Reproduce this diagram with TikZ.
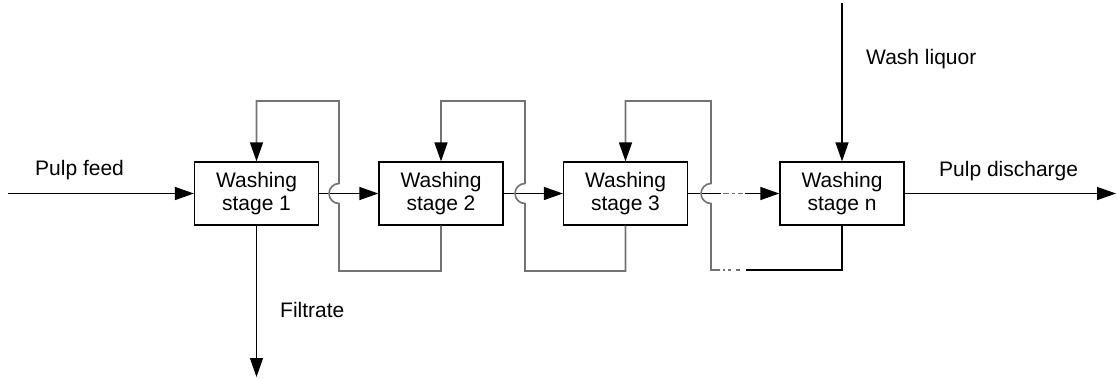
\documentclass[tikz,border=0pt]{standalone}
\usepackage{fontspec}
\setmainfont{Liberation Sans}
\usetikzlibrary{arrows.meta}
\begin{document}
\begin{tikzpicture}[x=1pt,y=-1pt,
  stagebox/.style={draw=black,line width=1.3pt,minimum width=124pt,minimum height=63pt,inner sep=0pt,align=center,font=\fontsize{21}{23}\selectfont},
  lbl/.style={anchor=west,inner sep=0pt,font=\fontsize{21}{23}\selectfont},
  flow/.style={draw=black,line width=1.3pt,-{Triangle[length=19pt,width=13pt]}},
  loop/.style={draw=black!55,line width=1.6pt,-{Triangle[length=19pt,width=13pt,color=black]}},
  gap/.style={draw=black!55,line width=1.6pt}
]
\useasboundingbox (0,0) rectangle (1118,378);
\node[stagebox] (s1) at (256.5,193.5) {Washing\\stage 1};
\node[stagebox] (s2) at (441,193.5) {Washing\\stage 2};
\node[stagebox] (s3) at (625.5,193.5) {Washing\\stage 3};
\node[stagebox] (sn) at (842,193.5) {Washing\\stage n};

\coordinate (feed) at (8,193.5);
\coordinate (disc) at (1116,193.5);
\coordinate (liq) at (842,3);
\coordinate (filt) at (256.5,377);

\node[lbl] (tfeed) at (35,170) {Pulp feed};
\node[lbl] (tdisc) at (939,171) {Pulp discharge};
\node[lbl] (tliq) at (866,59) {Wash liquor};
\node[lbl] (tfilt) at (280,310) {Filtrate};

% main flow
\draw[flow] (feed) -- (s1.west);
\draw[flow] (s1.east) -- (s2.west);
\draw[flow] (s2.east) -- (s3.west);
\coordinate (m1) at (721,193.5);
\coordinate (m2) at (745,193.5);
\draw[line width=1.3pt] (s3.east) -- (m1);
\draw[gap] (723,193.5) -- (729,193.5) (732,193.5) -- (735,193.5) (738,193.5) -- (743,193.5);
\draw[flow] (m2) -- (sn.west);
\draw[flow] (sn.east) -- (disc);
\draw[flow] (liq) -- (sn.north);
\draw[flow] (s1.south) -- (filt);

% loop 2 -> 1
\coordinate (a1) at (441,271);
\coordinate (a2) at (339,271);
\coordinate (a3) at (339,101);
\coordinate (a4) at (256.5,101);
\draw[loop] (s2.south) -- (a1) -- (a2) -- (339,203.5) arc[start angle=90,end angle=270,radius=10] -- (a3) -- (a4) -- (s1.north);

% loop 3 -> 2
\coordinate (b1) at (625.5,271);
\coordinate (b2) at (525,271);
\coordinate (b3) at (525,101);
\coordinate (b4) at (441,101);
\draw[loop] (s3.south) -- (b1) -- (b2) -- (525,203.5) arc[start angle=90,end angle=270,radius=10] -- (b3) -- (b4) -- (s2.north);

% loop n -> 3
\coordinate (c1) at (842,270);
\coordinate (c2) at (746,270);
\coordinate (c3) at (720,270);
\coordinate (c4) at (711,270);
\coordinate (c5) at (711,101);
\coordinate (c6) at (625.5,101);
\draw[draw=black,line width=1.4pt] (sn.south) -- (c1) -- (c2);
\draw[gap] (723,270) -- (725,270) (728,270) -- (731,270) (736,270) -- (740,270);
\draw[loop] (c3) -- (c4) -- (711,203.5) arc[start angle=90,end angle=270,radius=10] -- (c5) -- (c6) -- (s3.north);
\end{tikzpicture}
\end{document}
